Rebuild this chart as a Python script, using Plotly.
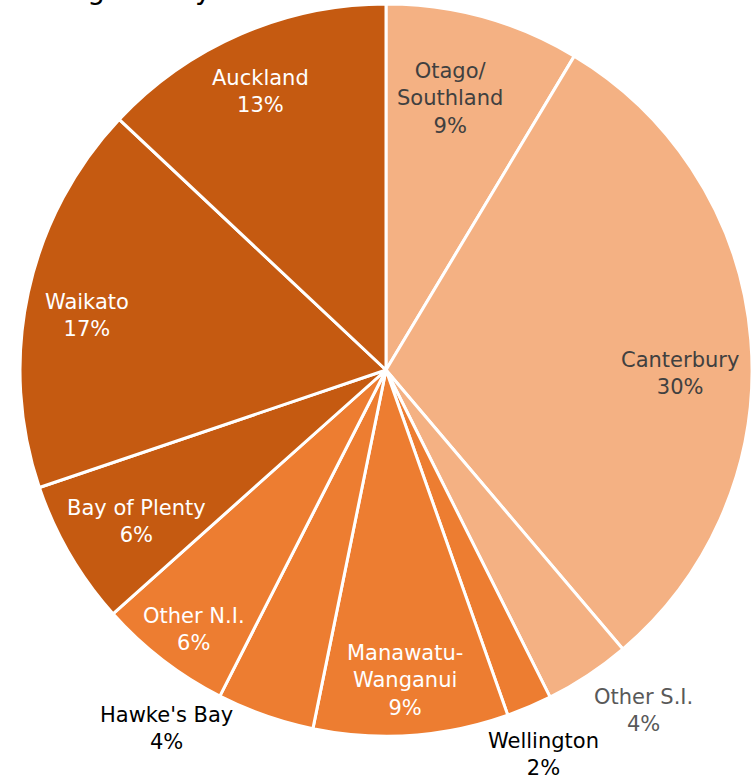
import math
import plotly.graph_objects as go

# ---- data ----
regions = ["Otago/<br>Southland", "Canterbury", "Other S.I.", "Wellington",
           "Manawatu-<br>Wanganui", "Hawke's Bay", "Other N.I.", "Bay of Plenty",
           "Waikato", "Auckland"]
shares = [8.6, 30.2, 3.8, 2.0, 8.6, 4.3, 5.9, 6.4, 17.2, 13.0]

# ---- styles ----
dark, mid, light = "#C55A11", "#ED7D31", "#F4B183"
slice_colors = [light, light, light, mid, mid, mid, mid, dark, dark, dark]
label_colors = ["#404040", "#404040", "#595959", "#000000", "#FFFFFF",
                "#000000", "#FFFFFF", "#FFFFFF", "#FFFFFF", "#FFFFFF"]
label_radius = [0.761, 0.803, 1.165, 1.134, 0.851, 1.148, 0.881, 0.798, 0.830, 0.836]
label_angle_offset = [-2.2, 5.3, -3.6, 0.8, 0.5, 12.3, -1.1, -0.9, -2.0, -0.9]

W, H = 756, 780
cx, cy, R = 386, 370, 366
FONT = "DejaVu Sans"

fig = go.Figure(go.Pie(
    labels=[r.replace("<br>", "") for r in regions],
    values=shares,
    sort=False,
    direction="clockwise",
    rotation=0,
    marker=dict(colors=slice_colors, line=dict(color="white", width=3)),
    textinfo="none",
    showlegend=False,
    domain=dict(x=[(cx - R) / W, (cx + R) / W],
                y=[1 - (cy + R) / H, 1 - (cy - R) / H]),
))

total = sum(shares)
cum = 0.0
annotations = []
for name, v, col, rf, da in zip(regions, shares, label_colors, label_radius, label_angle_offset):
    mid_frac = (cum + v / 2) / total
    cum += v
    ang = math.radians(360 * mid_frac + da)
    px = cx + rf * R * math.sin(ang)
    py = cy - rf * R * math.cos(ang)
    pct = round(v / total * 100)
    annotations.append(dict(
        x=px / W, y=1 - py / H, xref="paper", yref="paper",
        text=f"{name}<br>{pct}%", showarrow=False,
        font=dict(family=FONT, size=21, color=col),
        xanchor="center", yanchor="middle", align="center",
    ))

# title, mostly above the visible area (only descenders show)
annotations.append(dict(
    x=-4 / W, y=1, xref="paper", yref="paper",
    text="Holding size by District", showarrow=False,
    font=dict(family=FONT, size=28, color="#000000"),
    xanchor="left", yanchor="bottom", yshift=-8,
))

fig.update_layout(
    width=W, height=H,
    margin=dict(l=0, r=0, t=0, b=0),
    paper_bgcolor="white", plot_bgcolor="white",
    annotations=annotations,
)

fig.write_html("out.html", config={"displayModeBar": False},
               post_script="document.body.style.margin='0px';")
